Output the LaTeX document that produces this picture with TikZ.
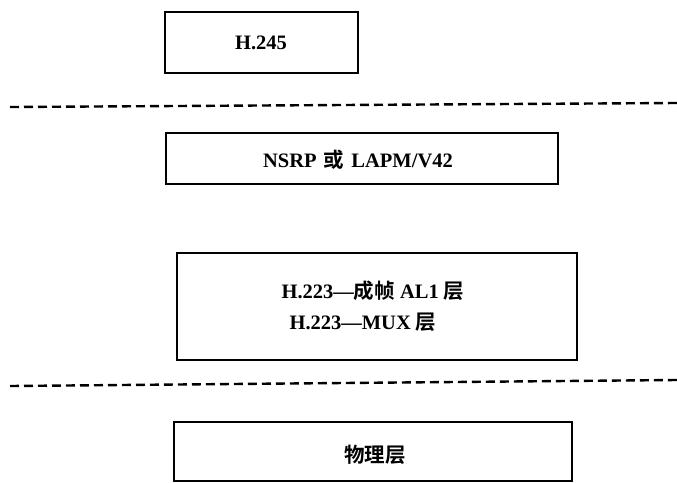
\documentclass[tikz,border=0pt]{standalone}
\usepackage{fontspec}
\setmainfont{Liberation Serif}
\newfontfamily\cjk{Noto Sans CJK SC}[BoldFont={* Bold}]
\begin{document}
\begin{tikzpicture}[x=1pt,y=-1pt,
  layerbox/.style={draw=black,line width=2pt},
  sep/.style={draw=black,line width=2.4pt,dash pattern=on 9pt off 5pt},
  lbl/.style={font=\fontsize{20.5}{24}\selectfont\bfseries,inner sep=0pt,anchor=center}]
\useasboundingbox (0,0) rectangle (677,482);
% boxes
\draw[layerbox] (165,12) rectangle (358,73);
\draw[layerbox] (166,133) rectangle (558,184);
\draw[layerbox] (177,253) rectangle (577,360);
\draw[layerbox] (174,422) rectangle (572,481);
% separators
\coordinate (s1a) at (10,107); \coordinate (s1b) at (677,103);
\coordinate (s2a) at (10,386); \coordinate (s2b) at (677,380);
\draw[sep] (s1a) -- (s1b);
\draw[sep] (s2a) -- (s2b);
% labels
\node[lbl] (h245) at (261,43) {H.245};
\node[lbl] (nsrp) at (358,160) {NSRP\hspace{2pt} {\cjk\bfseries 或}\hspace{2pt} LAPM/V42};
\node[lbl] (al1) at (373,291) {H.223—{\cjk\bfseries 成帧} AL1 {\cjk\bfseries 层}};
\node[lbl] (mux) at (363,322) {H.223—MUX {\cjk\bfseries 层}};
\node[lbl] (phy) at (375,455) {{\cjk\bfseries 物理层}};
\end{tikzpicture}
\end{document}
